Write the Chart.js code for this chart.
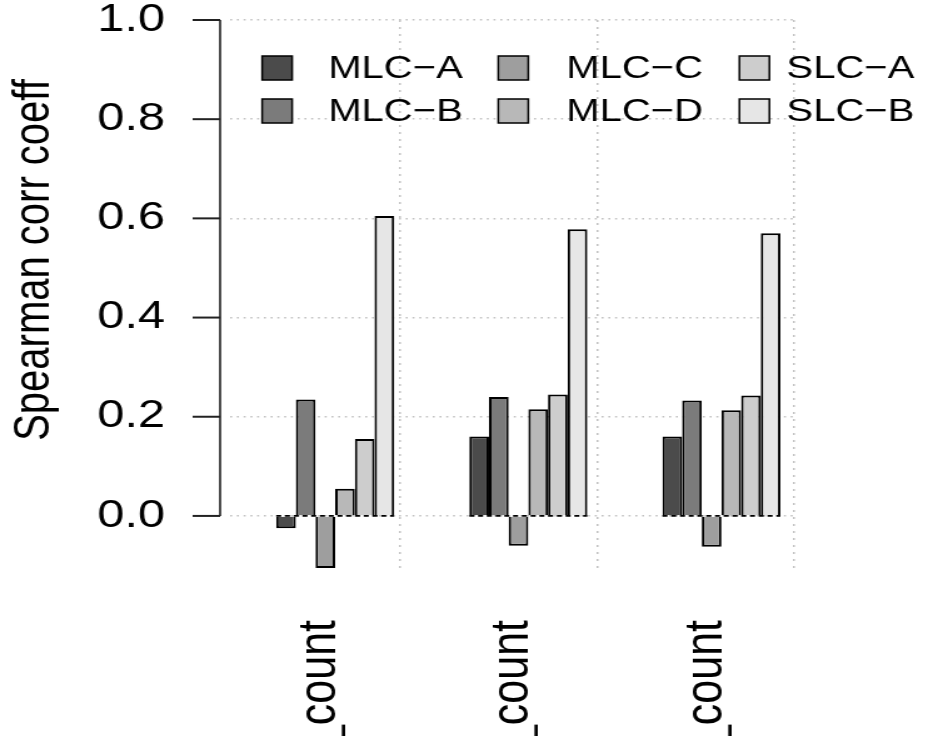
<!DOCTYPE html>
<html>
<head>
<meta charset="utf-8">
<script src="https://cdn.jsdelivr.net/npm/chart.js@4.4.1/dist/chart.umd.min.js"></script>
<style>
  html, body { margin: 0; padding: 0; background: #fff; overflow: hidden; }
  /* a figura original esta esticada 1.25x na horizontal: desenha a 750 e mostra a 938 */
  #grafico { display: block; width: 938px !important; height: 736px !important; }
</style>
</head>
<body>
<canvas id="grafico" width="750" height="736"></canvas>
<script>
// dados
const categorias = ["_count", "_count", "_count"];
const series = ["MLC\u2212A", "MLC\u2212B", "MLC\u2212C", "MLC\u2212D", "SLC\u2212A", "SLC\u2212B"];
const mlcA = [-0.025, 0.160, 0.160];
const mlcB = [0.235, 0.240, 0.233];
const mlcC = [-0.105, -0.060, -0.062];
const mlcD = [0.055, 0.215, 0.213];
const slcA = [0.155, 0.245, 0.243];
const slcB = [0.605, 0.578, 0.570];
const yTicks = [0, 0.2, 0.4, 0.6, 0.8, 1.0];

const valores = [mlcA, mlcB, mlcC, mlcD, slcA, slcB];
const cores = ["#4b4b4b", "#7b7b7b", "#9e9e9e", "#b8b8b8", "#cdcdcd", "#e6e6e6"];
const fonte = "'Liberation Sans', Arial, Helvetica, sans-serif";
const grade = "#c2c2c2";

const datasets = series.map((nome, k) => ({
  label: nome,
  xAxisID: "x",
  data: valores[k].map((v, i) => ({ x: i + 1, y: v })),
  backgroundColor: cores[k],
  borderColor: "#000",
  borderWidth: 2,
  categoryPercentage: 0.611,
  barPercentage: 1.0
}));

// sem folgas automaticas: a area do grafico fica onde o layout manda
function semFolga(s) {
  s.paddingLeft = s.paddingRight = s.paddingTop = s.paddingBottom = 0;
}

// eixo y no estilo do R, legenda em 3 colunas, titulo e linha tracejada no zero
const extras = {
  id: "extras",
  afterDatasetsDraw(chart) {
    const ctx = chart.ctx;
    const zero = chart.scales.y.getPixelForValue(0);
    const primeira = chart.getDatasetMeta(0).data;
    const ultima = chart.getDatasetMeta(chart.data.datasets.length - 1).data;
    ctx.save();
    ctx.strokeStyle = "#000";
    ctx.lineWidth = 1.8;
    ctx.setLineDash([4, 3]);
    primeira.forEach((bar, i) => {
      ctx.beginPath();
      ctx.moveTo(bar.x - bar.width / 2, zero);
      ctx.lineTo(ultima[i].x + ultima[i].width / 2, zero);
      ctx.stroke();
    });
    ctx.restore();
  },
  afterDraw(chart, args, opts) {
    const ctx = chart.ctx;
    const y = chart.scales.y;
    const xEixo = chart.chartArea.left - 8;
    ctx.save();
    ctx.strokeStyle = "#222";
    ctx.lineWidth = 1.6;
    ctx.beginPath();
    ctx.moveTo(xEixo, y.getPixelForValue(yTicks[0]));
    ctx.lineTo(xEixo, y.getPixelForValue(yTicks[yTicks.length - 1]));
    ctx.stroke();
    ctx.lineWidth = 2;
    yTicks.forEach(v => {
      const py = y.getPixelForValue(v);
      ctx.beginPath();
      ctx.moveTo(xEixo - 22, py);
      ctx.lineTo(xEixo, py);
      ctx.stroke();
    });

    // titulo do eixo y
    ctx.fillStyle = "#000";
    ctx.font = "40px " + fonte;
    ctx.textAlign = "center";
    ctx.textBaseline = "middle";
    ctx.translate(28, 260);
    ctx.rotate(-Math.PI / 2);
    ctx.fillText("Spearman corr coeff", 0, 0);
    ctx.restore();

    // legenda (ordem por colunas, como no R)
    ctx.save();
    ctx.font = "32px " + fonte;
    ctx.textAlign = "left";
    ctx.textBaseline = "middle";
    chart.data.datasets.forEach((ds, k) => {
      const col = Math.floor(k / 2);
      const lin = k % 2;
      const cy = opts.linhas[lin];
      ctx.fillStyle = ds.backgroundColor;
      ctx.fillRect(opts.caixaX[col], cy - 12, 24, 24);
      ctx.strokeStyle = "#000";
      ctx.lineWidth = 1.5;
      ctx.strokeRect(opts.caixaX[col], cy - 12, 24, 24);
      ctx.fillStyle = "#000";
      ctx.fillText(ds.label, opts.textoX[col], cy + 1);
    });
    ctx.restore();
  }
};

new Chart(document.getElementById("grafico"), {
  type: "bar",
  data: { datasets },
  options: {
    responsive: false,
    animation: false,
    events: [],
    layout: { padding: { top: 20, right: 114, left: 0, bottom: 0 } },
    plugins: {
      legend: { display: false },
      tooltip: { enabled: false },
      extras: {
        caixaX: [209.6, 398.4, 591.2],
        textoX: [262.4, 452.8, 628.8],
        linhas: [68, 111]
      }
    },
    scales: {
      x: {
        type: "linear",
        position: "bottom",
        offset: false,
        min: 0.456,
        max: 3.383,
        afterBuildTicks: s => { s.ticks = categorias.map((c, i) => ({ value: i + 1 })); },
        afterFit: s => { s.height = 168; semFolga(s); },
        grid: { display: false, offset: false },
        border: { display: false },
        ticks: {
          autoSkip: false,
          minRotation: 90,
          maxRotation: 90,
          padding: 44,
          labelOffset: -12,
          color: "#000",
          font: { family: fonte, size: 43 },
          callback: (v, i) => categorias[i]
        }
      },
      xg: {
        type: "linear",
        axis: "x",
        position: "bottom",
        offset: false,
        min: 0.456,
        max: 3.383,
        afterBuildTicks: s => { s.ticks = [1.337, 2.357, 3.373].map(v => ({ value: v })); },
        afterFit: s => { s.height = 0; semFolga(s); },
        ticks: { display: false },
        grid: { color: grade, lineWidth: 1.5, drawTicks: false, offset: false },
        border: { display: false, dash: [2, 5] }
      },
      y: {
        min: -0.105,
        max: 1.0,
        afterBuildTicks: s => { s.ticks = yTicks.map(v => ({ value: v })); },
        afterFit: s => { s.width = 184; semFolga(s); },
        grid: { color: grade, lineWidth: 1.5, drawTicks: false },
        border: { display: false, dash: [1.6, 3.8] },
        ticks: {
          padding: 52,
          color: "#000",
          font: { family: fonte, size: 39 },
          callback: v => v.toFixed(1)
        }
      }
    }
  },
  plugins: [extras]
});
</script>
</body>
</html>
